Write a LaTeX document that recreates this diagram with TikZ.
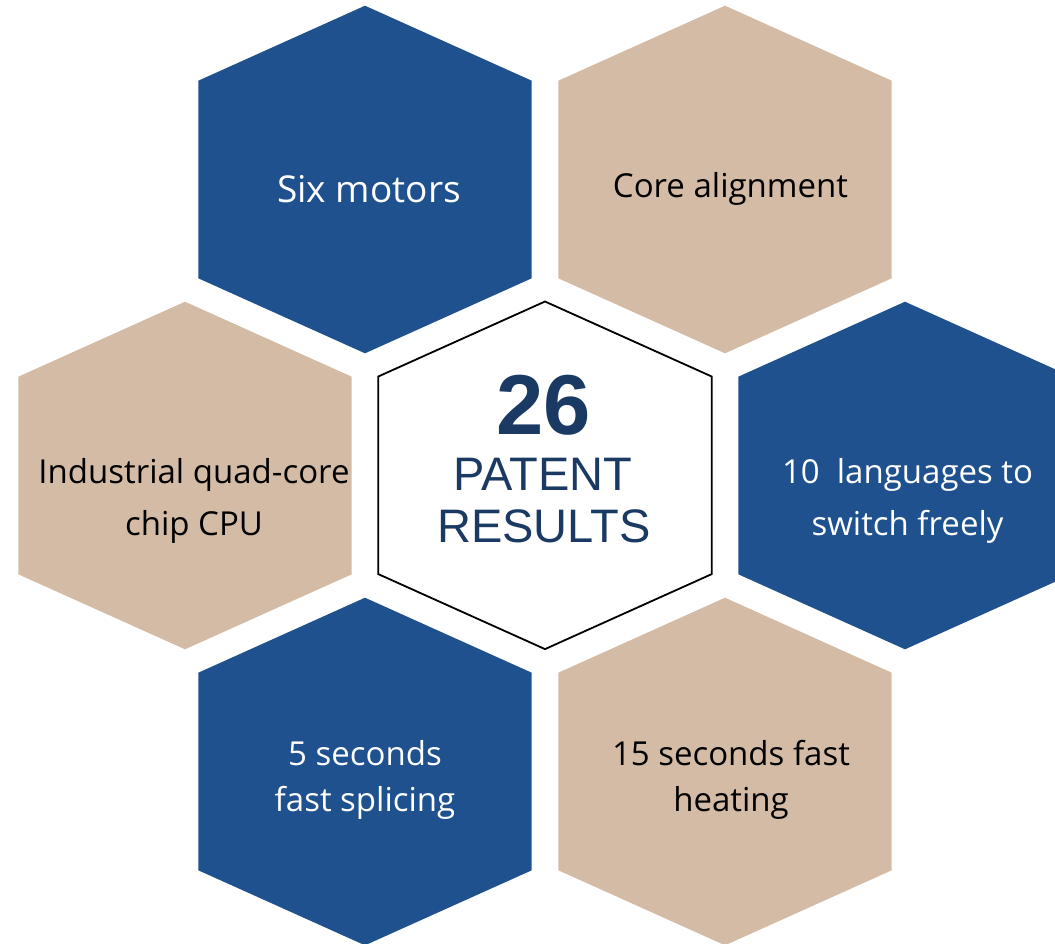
\documentclass[tikz,border=0pt]{standalone}
\usepackage{fontspec}
\setmainfont{Open Sans}
\newfontfamily\arialfont{Liberation Sans}
\definecolor{hexblue}{RGB}{30,81,142}
\definecolor{hextan}{RGB}{212,187,165}
\definecolor{navytext}{RGB}{27,58,99}
\newcommand\hexpath[2]{(#1,#2) ++(0,-173.8) -- ++(166.7,75) -- ++(0,197.6) -- ++(-166.7,75) -- ++(-166.7,-75) -- ++(0,-197.6) -- cycle}
\tikzset{
  bluehex/.style={fill=hexblue},
  tanhex/.style={fill=hextan},
  centerhex/.style={fill=white,draw=black,line width=1.8pt,line join=miter},
  whitelabel/.style={text=white,align=center,anchor=base,inner sep=0pt},
  darklabel/.style={text=black,align=center,anchor=base,inner sep=0pt},
  midfont/.style={font=\fontsize{33}{52}\selectfont},
  lowfont/.style={font=\fontsize{33}{46}\selectfont},
  centertext/.style={anchor=base,inner sep=0pt,text=navytext},
}
\begin{document}
\begin{tikzpicture}[x=1pt,y=-1pt]
\useasboundingbox (0,0) rectangle (1055,943);
\clip (0,0) rectangle (1055,943);
\fill[bluehex] \hexpath{365}{179.5};
\fill[tanhex] \hexpath{725}{179.5};
\fill[tanhex] \hexpath{185}{475.5};
\fill[bluehex] \hexpath{905}{475.5};
\fill[bluehex] \hexpath{365}{771.5};
\fill[tanhex] \hexpath{725}{771.5};
\path[centerhex] \hexpath{545}{475.3};
\node[whitelabel,font=\fontsize{37}{44}\selectfont] (six) at (369,202.3) {Six motors};
\node[darklabel,font=\fontsize{33}{40}\selectfont] (core) at (730.5,197.3) {Core alignment};
\node[darklabel,midfont] (ind) at (194,535) {Industrial quad-core\\chip CPU};
\node[whitelabel,midfont] (lang) at (907.5,535) {10\ \ languages to\\switch freely};
\node[whitelabel,lowfont] (five) at (365,811.7) {5 seconds\\fast splicing};
\node[darklabel,lowfont] (fifteen) at (731,811.7) {15 seconds fast\\heating};
\node[centertext,font=\arialfont\bfseries\fontsize{85}{90}\selectfont] (num) at (544,434) {26};
\node[centertext,font=\arialfont\fontsize{47}{50}\selectfont] (pat) at (543,490) {PATENT};
\node[centertext,font=\arialfont\fontsize{47}{50}\selectfont] (res) at (544,542) {RESULTS};
\end{tikzpicture}
\end{document}
